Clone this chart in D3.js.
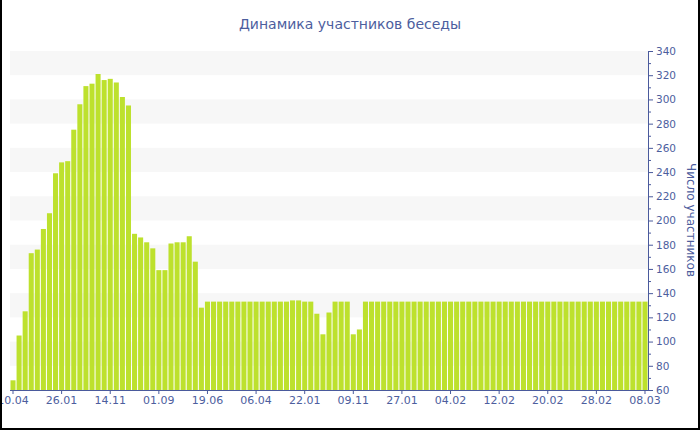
<!DOCTYPE html>
<html>
<head>
<meta charset="utf-8">
<script src="https://cdn.jsdelivr.net/npm/d3@7"></script>
<style>
  html, body { margin: 0; padding: 0; background: #fff; }
  svg { display: block; }
</style>
</head>
<body>
<svg id="chart" width="700" height="430"></svg>
<script>
// ---- data ----
const values = [
  68, 105, 125, 173, 176, 193, 206, 239, 248, 249,
  275, 296, 311, 313, 321, 316, 317, 314, 302, 295,
  189, 186, 182, 177, 159, 159, 181, 182, 182, 187,
  166, 128, 133, 133, 133, 133, 133, 133, 133, 133,
  133, 133, 133, 133, 133, 133, 134, 134, 133, 133,
  123, 106, 124, 133, 133, 133, 106, 110, 133, 133,
  133, 133, 133, 133, 133, 133, 133, 133, 133, 133,
  133, 133, 133, 133, 133, 133, 133, 133, 133, 133,
  133, 133, 133, 133, 133, 133, 133, 133, 133, 133,
  133, 133, 133, 133, 133, 133, 133, 133, 133, 133,
  133, 133, 133, 133, 133
];
const categories = values.map((v, i) => i);
const tickLabels = ["10.04", "26.01", "14.11", "01.09", "19.06", "06.04", "22.01",
                    "09.11", "27.01", "04.02", "12.02", "20.02", "28.02", "08.03"];
const tickEvery = 8;
const yTicks = [60, 80, 100, 120, 140, 160, 180, 200, 220, 240, 260, 280, 300, 320, 340];
const chartTitle = "Динамика участников беседы";
const yTitle = "Число участников";

// ---- drawing ----
(function () {
const svg = d3.select("#chart");
const axisColor = "#4a5a9c";
const textColor = "#4d5e9e";
const pLeft = 10, pRight = 648, pTop = 51, pBottom = 390;

const x = d3.scaleBand().domain(categories).range([pLeft, pRight])
  .paddingInner(0.17).paddingOuter(0.08);
const y = d3.scaleLinear().domain([60, 340]).range([pBottom, pTop]);

// stripes
const stripes = d3.range(0, yTicks.length - 1).filter(i => (yTicks.length - 2 - i) % 2 === 0)
  .map(i => [yTicks[i], yTicks[i + 1]]);
svg.append("g").selectAll("rect").data(stripes).join("rect")
  .attr("x", pLeft).attr("width", pRight - pLeft)
  .attr("y", d => y(d[1])).attr("height", d => y(d[0]) - y(d[1]))
  .attr("fill", "#f7f7f7");

// bars
svg.append("g").selectAll("rect").data(values).join("rect")
  .attr("x", (d, i) => x(categories[i]))
  .attr("width", x.bandwidth())
  .attr("y", d => y(d))
  .attr("height", d => y(60) - y(d))
  .attr("fill", "#bde12d");

// x axis
const tickCats = categories.filter(c => c % tickEvery === 0);
const xAxis = d3.axisBottom(x).tickValues(tickCats)
  .tickFormat(c => tickLabels[c / tickEvery]).tickSize(4).tickSizeOuter(0);
const gx = svg.append("g").attr("transform", `translate(0,${pBottom})`).call(xAxis);
gx.select(".domain").attr("stroke", axisColor).attr("d", `M${pLeft},0.5H${pRight}`);
gx.selectAll(".tick line").attr("stroke", axisColor);
gx.selectAll(".tick text").attr("fill", textColor)
  .style("font-family", "DejaVu Sans").style("font-size", "11px").attr("dy", "0.6em");

// y axis (right)
const yAxis = d3.axisRight(y).tickValues(yTicks).tickSize(5).tickSizeOuter(0).tickPadding(3);
const gy = svg.append("g").attr("transform", `translate(${pRight},0)`).call(yAxis);
gy.select(".domain").attr("stroke", axisColor);
gy.selectAll(".tick line").attr("stroke", axisColor);
gy.selectAll(".tick text").attr("fill", textColor)
  .style("font-family", "DejaVu Sans").style("font-size", "10.5px");
const minor = d3.range(70, 340, 20);
const gyMinor = d3.axisRight(y).tickValues(minor).tickSize(3).tickFormat("");
const gm = svg.append("g").attr("transform", `translate(${pRight},0)`).call(gyMinor);
gm.select(".domain").remove();
gm.selectAll(".tick line").attr("stroke", axisColor);

// titles
svg.append("text").attr("x", 350).attr("y", 29).attr("text-anchor", "middle")
  .attr("fill", textColor).style("font-family", "DejaVu Sans").style("font-size", "14px")
  .text(chartTitle);
svg.append("text").attr("transform", "translate(687,220) rotate(90)")
  .attr("text-anchor", "middle").attr("fill", textColor)
  .style("font-family", "DejaVu Sans").style("font-size", "12px").text(yTitle);

// frame (left, right, bottom)
svg.append("path").attr("d", "M1,0V429H699V0").attr("fill", "none")
  .attr("stroke", "#000").attr("stroke-width", 2);
})();
</script>
</body>
</html>
